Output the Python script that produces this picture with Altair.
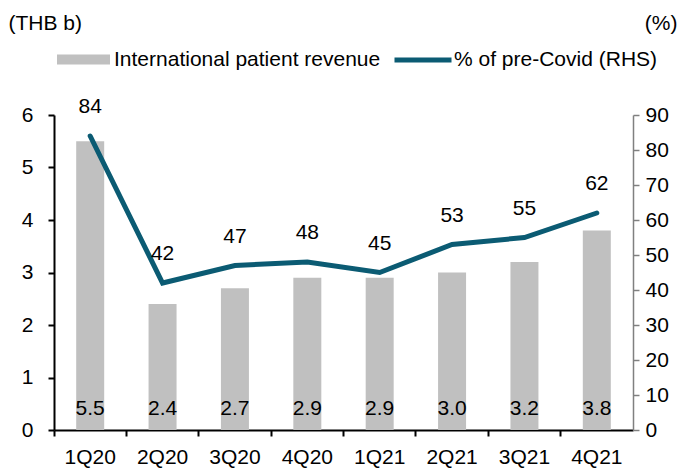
import altair as alt
import pandas as pd

quarters = ["1Q20", "2Q20", "3Q20", "4Q20", "1Q21", "2Q21", "3Q21", "4Q21"]
revenue = [5.5, 2.4, 2.7, 2.9, 2.9, 3.0, 3.2, 3.8]
pct_precovid = [84, 42, 47, 48, 45, 53, 55, 62]
bar_name = "International patient revenue"
line_name = "% of pre-Covid (RHS)"

df = pd.DataFrame({
    "q": quarters,
    "rev": revenue,
    "pct": pct_precovid,
    "s1": [bar_name] * len(quarters),
    "s2": [line_name] * len(quarters),
})

FONT = "Liberation Sans"
FS = 21
BAR_C = "#c0c0c0"
LINE_C = "#0b5b73"

x_enc = alt.X(
    "q:N", sort=quarters, title=None,
    scale=alt.Scale(paddingInner=0, paddingOuter=0),
    axis=alt.Axis(labelAngle=0, labelFontSize=FS, labelColor="black", labelFont=FONT,
                  domainColor="black", domainWidth=2, tickColor="black", tickWidth=2,
                  tickSize=6, labelPadding=10, bandPosition=0, grid=False),
)

left_axis = alt.Axis(orient="left", values=[0, 1, 2, 3, 4, 5, 6], format="d", grid=False,
                     labelFontSize=FS, labelColor="black", labelFont=FONT, labelPadding=15,
                     domainColor="black", domainWidth=2, tickColor="black", tickWidth=2, tickSize=6,
                     title="(THB b)", titleAngle=0, titleX=-46, titleY=-92, titleAlign="left",
                     titleBaseline="middle", titleFontSize=FS, titleFontWeight="normal",
                     titleColor="black", titleFont=FONT)
left_scale = alt.Scale(domain=[0, 6], nice=False)

bars = alt.Chart(df).mark_bar(size=28).encode(
    x=x_enc,
    y=alt.Y("rev:Q", scale=left_scale, axis=left_axis),
    color=alt.Color("s1:N", scale=alt.Scale(domain=[bar_name], range=[BAR_C]),
                    legend=alt.Legend(orient="none", legendX=19, legendY=-66, title=None,
                                      padding=0, symbolType="M-5.3,-1H5.3V1H-5.3Z",
                                      symbolSize=100, symbolStrokeWidth=0, symbolOpacity=1,
                                      labelOffset=20, labelFontSize=FS, labelColor="black",
                                      labelFont=FONT, labelLimit=0)),
)

bar_text = alt.Chart(df).mark_text(fontSize=FS, font=FONT, color="black", baseline="alphabetic",
                                   dy=-15).encode(
    x=alt.X("q:N", sort=quarters),
    y=alt.Y("zero:Q", scale=left_scale, axis=left_axis),
    text=alt.Text("rev:Q", format=".1f"),
).transform_calculate(zero="0")

left_layer = alt.layer(bars, bar_text)

right_axis = alt.Axis(orient="right", values=list(range(0, 91, 10)), grid=False,
                      labelFontSize=FS, labelColor="black", labelFont=FONT, labelPadding=6,
                      domainColor="#808080", domainWidth=1.5, tickColor="#808080", tickWidth=1.5,
                      tickSize=6,
                      title="(%)", titleAngle=0, titleX=44, titleY=-92, titleAlign="right",
                      titleBaseline="middle", titleFontSize=FS, titleFontWeight="normal",
                      titleColor="black", titleFont=FONT)
right_scale = alt.Scale(domain=[0, 90], nice=False)

line = alt.Chart(df).mark_line(strokeWidth=5, strokeCap="round").encode(
    x=alt.X("q:N", sort=quarters),
    y=alt.Y("pct:Q", scale=right_scale, axis=right_axis),
    stroke=alt.Stroke("s2:N", scale=alt.Scale(domain=[line_name], range=[LINE_C]),
                      legend=alt.Legend(orient="none", legendX=338, legendY=-86, title=None,
                                        padding=0, symbolType="stroke", symbolSize=3249,
                                        symbolStrokeWidth=5, labelOffset=0, labelFontSize=FS,
                                        labelColor="black", labelFont=FONT, labelLimit=0)),
)

line_text = alt.Chart(df).mark_text(fontSize=FS, font=FONT, color="black", baseline="alphabetic",
                                    dy=-23).encode(
    x=alt.X("q:N", sort=quarters),
    y=alt.Y("pct:Q", scale=right_scale, axis=right_axis),
    text=alt.Text("pct:Q", format="d"),
)

right_layer = alt.layer(line, line_text)

chart = alt.layer(left_layer, right_layer).resolve_scale(
    y="independent", color="independent", stroke="independent"
).resolve_legend(color="independent", stroke="independent").properties(
    width=579, height=315,
    autosize=alt.AutoSizeParams(type="none"),
    padding={"left": 46, "top": 107, "right": 45, "bottom": 40},
).configure(font=FONT).configure_view(stroke=None)

chart.save("out.html", embed_options={"renderer": "svg", "actions": False})
